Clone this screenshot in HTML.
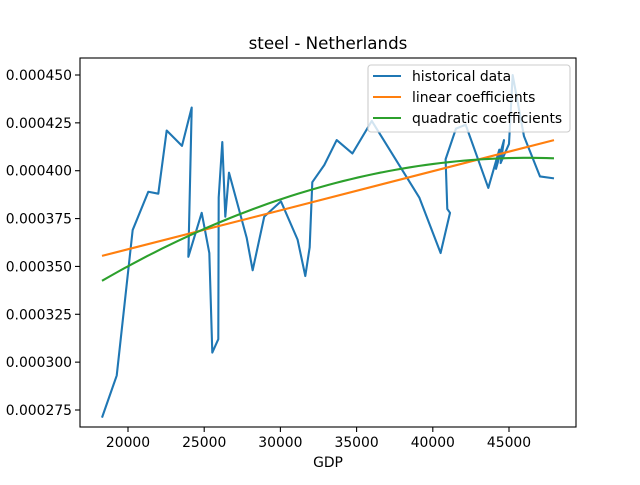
<!DOCTYPE html>
<html><head><meta charset="utf-8"><style>
body{margin:0;background:#fff;}
svg text{font-family:"DejaVu Sans","Liberation Sans",sans-serif;fill:#000;}
</style></head><body>
<svg id="chart" width="640" height="480">
<rect width="640" height="480" fill="#fff"/>
<text x="328" y="49" font-size="16.7" text-anchor="middle">steel - Netherlands</text>
<text x="328" y="467" font-size="13.9" text-anchor="middle">GDP</text>
<g id="ticks"></g>
<g id="series"></g>
<rect x="80" y="58" width="496" height="369" fill="none" stroke="#000" stroke-width="1.1"/>
<g>
<rect x="368" y="65" width="202" height="67" rx="3" fill="#fff" fill-opacity="0.8" stroke="#ccc" stroke-width="1.1"/>
<g><line x1="373" y1="76" x2="401" y2="76" stroke="#1f77b4" stroke-width="2.1"/><text x="412" y="81" font-size="13.9">historical data</text></g>
<g><line x1="373" y1="97" x2="401" y2="97" stroke="#ff7f0e" stroke-width="2.1"/><text x="412" y="102" font-size="13.9">linear coefficients</text></g>
<g><line x1="373" y1="118" x2="401" y2="118" stroke="#2ca02c" stroke-width="2.1"/><text x="412" y="123" font-size="13.9">quadratic coefficients</text></g>
</g>
</svg>
<script>
const gdp = [18294,19260,20306,21332,21988,22539,23543,24180,23960,24836,25336,25532,25925,25951,26188,26385,26627,27786,28180,28940,30035,31128,31634,31921,32093,32881,33694,34724,35997,39114,40512,41129,40951,40840,41522,42158,43642,44364,44147,44672,44450,45000,45240,45984,47034,47952];
const intensity = [0.000271,0.000293,0.000369,0.000389,0.000388,0.000421,0.000413,0.000433,0.000355,0.000378,0.000357,0.000305,0.000312,0.000386,0.000415,0.000376,0.000399,0.000365,0.000348,0.000376,0.000384,0.000364,0.000345,0.000360,0.000394,0.000403,0.000416,0.000409,0.000426,0.000386,0.000357,0.000378,0.000380,0.000406,0.000422,0.000424,0.000391,0.000411,0.000401,0.000416,0.000404,0.000414,0.000450,0.000418,0.000397,0.000396];
const fitX = [18294,30000,47952];
const linearY = [0.0003555,0.0003793,0.000416];
const quadY = [0.0003425,0.000385,0.0004065];
const xTicks = [20000,25000,30000,35000,40000,45000];
const yTicks = [0.000275,0.000300,0.000325,0.000350,0.000375,0.000400,0.000425,0.000450];

const NS="http://www.w3.org/2000/svg";
const sx=v=>128+(v-20000)*381/25000;
const sy=v=>410-(v-0.000275)*335/0.000175;
const ticks=document.getElementById('ticks'), series=document.getElementById('series');
function mk(tag,attrs,parent){const e=document.createElementNS(NS,tag);for(const k in attrs)e.setAttribute(k,attrs[k]);parent.appendChild(e);return e;}
xTicks.forEach(t=>{
  const l=mk('line',{x1:sx(t),x2:sx(t),y1:427,y2:432,stroke:'#000','stroke-width':1.1},ticks);
  
  
  const tx=mk('text',{x:sx(t),y:447,'font-size':13.9,'text-anchor':'middle'},ticks);tx.textContent=t;
  
  
});
yTicks.forEach(t=>{
  const l=mk('line',{x1:75,x2:80,y1:sy(t),y2:sy(t),stroke:'#000','stroke-width':1.1},ticks);
  
  
  const tx=mk('text',{x:72,y:sy(t)+5,'font-size':13.9,'text-anchor':'end'},ticks);tx.textContent=t.toFixed(6);
  
  
});
const h=mk('polyline',{points:gdp.map((g,i)=>sx(g)+','+sy(intensity[i])).join(' '),fill:'none',stroke:'#1f77b4','stroke-width':2.1,'stroke-linejoin':'round'},series);


const lp=mk('polyline',{points:fitX.map((g,i)=>sx(g)+','+sy(linearY[i])).join(' '),fill:'none',stroke:'#ff7f0e','stroke-width':2.1},series);


function quad(x){let s=0;for(let i=0;i<3;i++){let p=quadY[i];for(let j=0;j<3;j++)if(j!==i)p*=(x-fitX[j])/(fitX[i]-fitX[j]);s+=p;}return s;}
const qp=[];for(let k=0;k<=60;k++){const x=fitX[0]+(fitX[2]-fitX[0])*k/60;qp.push(sx(x)+','+sy(quad(x)));}
const q=mk('polyline',{points:qp.join(' '),fill:'none',stroke:'#2ca02c','stroke-width':2.1},series);


</script>
</body></html>
